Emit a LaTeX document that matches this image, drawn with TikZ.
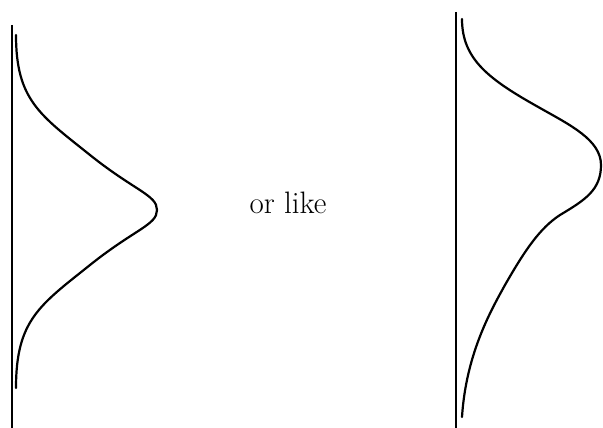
\documentclass[tikz,border=0pt]{standalone}
\begin{document}
\begin{tikzpicture}[x=1pt,y=-1pt,
  axisline/.style={line width=2.2pt},
  curveline/.style={line width=2.2pt,line cap=round}]
\useasboundingbox (0,0) rectangle (603,428);
% left axis and curve
\coordinate (la1) at (12,25);
\coordinate (la2) at (12,428);
\draw[axisline] (la1) -- (la2);
\draw[curveline] (16,35) .. controls (16,100) and (40,115) .. (90,155)
  .. controls (135,191) and (157,195) .. (157,210)
  .. controls (157,225) and (135,229) .. (90,265)
  .. controls (40,305) and (16,320) .. (16,388);
% label
\node[font=\fontsize{31}{36}\selectfont,anchor=base] (lbl) at (288,213) {or like};
% right axis and curve
\coordinate (ra1) at (456,12);
\coordinate (ra2) at (456,428);
\draw[axisline] (ra1) -- (ra2);
\draw[curveline] (462,19) .. controls (462,60) and (490,80) .. (540,108)
  .. controls (570,125) and (601,140) .. (601,165)
  .. controls (601,190) and (585,200) .. (560,215)
  .. controls (540,228) and (525,250) .. (505,285)
  .. controls (490,312) and (466,355) .. (462,417);
\end{tikzpicture}
\end{document}
